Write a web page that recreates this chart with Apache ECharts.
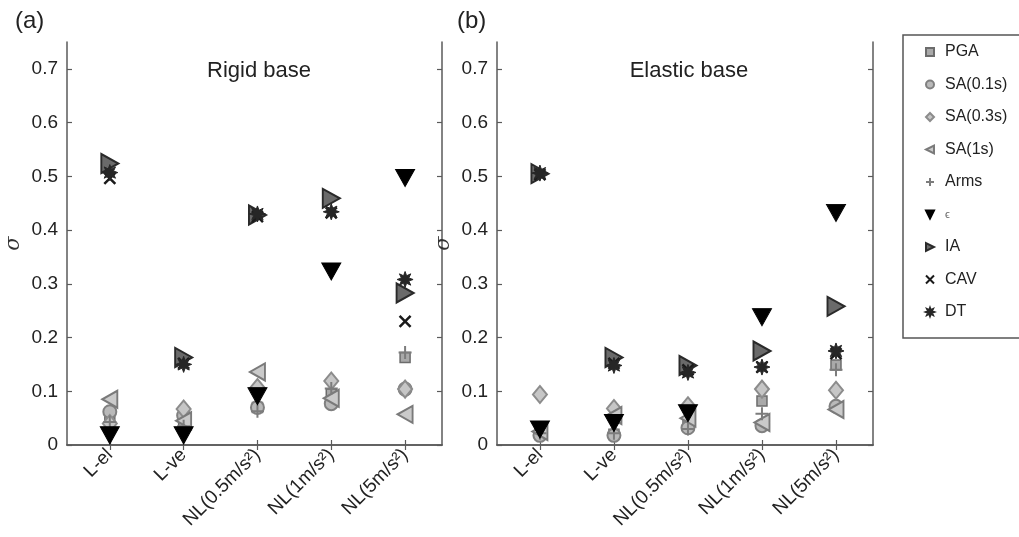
<!DOCTYPE html>
<html><head><meta charset="utf-8">
<script src="https://cdn.jsdelivr.net/npm/echarts@6/dist/echarts.min.js"></script>
<style>html,body{margin:0;padding:0;background:#fff}#c{width:1019px;height:537px}</style>
</head><body><div id="c"></div>
<script>
const categories = ['L-el', 'L-ve', 'NL(0.5m/s²)', 'NL(1m/s²)', 'NL(5m/s²)'];
const yTicks = [0, 0.1, 0.2, 0.3, 0.4, 0.5, 0.6, 0.7];
const seriesNames = ['PGA', 'SA(0.1s)', 'SA(0.3s)', 'SA(1s)', 'Arms', 'ϵ', 'IA', 'CAV', 'DT'];

// Panel (a) Rigid base
const rigidPGA  = [0.045, 0.040, 0.070, 0.095, 0.163];
const rigidSA01 = [0.062, 0.055, 0.070, 0.077, 0.104];
const rigidSA03 = [0.040, 0.067, 0.107, 0.119, 0.104];
const rigidSA1  = [0.085, 0.045, 0.136, 0.087, 0.057];
const rigidArms = [0.043, 0.035, 0.063, 0.105, 0.172];
const rigidEps  = [0.018, 0.018, 0.091, 0.323, 0.497];
const rigidIA   = [0.524, 0.163, 0.428, 0.459, 0.283];
const rigidCAV  = [0.496, 0.152, 0.425, 0.432, 0.230];
const rigidDT   = [0.507, 0.150, 0.430, 0.434, 0.308];

// Panel (b) Elastic base
const elasPGA  = [0.020, 0.020, 0.040, 0.082, 0.149];
const elasSA01 = [0.018, 0.018, 0.032, 0.036, 0.072];
const elasSA03 = [0.094, 0.068, 0.073, 0.104, 0.102];
const elasSA1  = [0.025, 0.055, 0.050, 0.042, 0.066];
const elasArms = [0.022, 0.022, 0.030, 0.058, 0.140];
const elasEps  = [0.029, 0.041, 0.059, 0.238, 0.432];
const elasIA   = [0.505, 0.163, 0.148, 0.175, 0.258];
const elasCAV  = [0.503, 0.152, 0.140, 0.145, 0.170];
const elasDT   = [0.506, 0.148, 0.135, 0.145, 0.175];

const rigid = [rigidPGA, rigidSA01, rigidSA03, rigidSA1, rigidArms, rigidEps, rigidIA, rigidCAV, rigidDT];
const elastic = [elasPGA, elasSA01, elasSA03, elasSA1, elasArms, elasEps, elasIA, elasCAV, elasDT];

// star path for DT
let star = 'path://';
for (let k = 0; k < 16; k++) {
  const a = Math.PI * k / 8 - Math.PI / 2;
  const r = k % 2 === 0 ? 1 : 0.5;
  star += (k === 0 ? 'M' : 'L') + (r * Math.cos(a)).toFixed(3) + ',' + (r * Math.sin(a)).toFixed(3);
}
star += 'Z';

const styles = [
  {symbol: 'rect', size: 10, color: '#a9a9a9', border: '#6c6c6c', bw: 1.5},
  {symbol: 'circle', size: 13, color: '#b9b9b9', border: '#808080', bw: 2},
  {symbol: 'diamond', size: [14, 17], color: '#c6c6c6', border: '#8c8c8c', bw: 2},
  {symbol: 'path://M1,-1L1,1L-1,0Z', size: [15, 17], color: '#cacaca', border: '#7a7a7a', bw: 2},
  {symbol: 'path://M-1,0L1,0M0,-1L0,1', size: 13, color: 'rgba(0,0,0,0)', border: '#7c7c7c', bw: 2},
  {symbol: 'path://M-1,-1L1,-1L0,1Z', size: [19, 17], color: '#000', border: '#000', bw: 1},
  {symbol: 'path://M-1,-1L-1,1L1,0Z', size: [17, 19], color: '#6a6a6a', border: '#2a2a2a', bw: 2},
  {symbol: 'path://M-1,-1L1,1M-1,1L1,-1', size: 11, color: 'rgba(0,0,0,0)', border: '#1a1a1a', bw: 2.5},
  {symbol: star, size: 16, color: '#262626', border: '#262626', bw: 1}
];

const FONT = 'Liberation Sans, Arial, sans-serif';
const series = [];
[rigid, elastic].forEach((panel, p) => {
  panel.forEach((vals, i) => {
    const st = styles[i];
    series.push({
      type: 'scatter', name: seriesNames[i],
      xAxisIndex: p * 2, yAxisIndex: p * 2,
      symbol: st.symbol, symbolSize: st.size,
      itemStyle: {color: st.color, borderColor: st.border, borderWidth: st.bw, opacity: 1},
      emphasis: {disabled: true},
      data: vals.map((v, j) => [j + 1, v]),
      z: 2 + i
    });
  });
});

const axisLine = {show: true, lineStyle: {color: '#5a5a5a', width: 1.5}};
const grids = [
  {left: 67, top: 42, width: 375, height: 403},
  {left: 497, top: 42, width: 376, height: 403}
];
const xAxes = [], yAxes = [];
grids.forEach((g, p) => {
  xAxes.push({
    type: 'value', gridIndex: p, min: 0.42, max: 5.5, position: 'bottom',
    axisLine, splitLine: {show: false},
    axisTick: {show: true, inside: true, length: 5, customValues: [1, 2, 3, 4, 5], lineStyle: {color: '#5a5a5a', width: 1.2}},
    axisLabel: {customValues: [1, 2, 3, 4, 5], rotate: 45, margin: 7, fontSize: 19, fontFamily: FONT, color: '#222',
      formatter: v => categories[Math.round(v) - 1]}
  });
  xAxes.push({
    type: 'value', gridIndex: p, min: 0.42, max: 5.5, position: 'top',
    axisLine, splitLine: {show: false},
    axisTick: {show: true, inside: true, length: 5, customValues: [1, 2, 3, 4, 5], lineStyle: {color: '#5a5a5a', width: 1.2}},
    axisLabel: {show: false}
  });
  yAxes.push({
    type: 'value', gridIndex: p, min: 0, max: 0.75, position: 'left',
    axisLine, splitLine: {show: false},
    name: 'σ', nameLocation: 'middle', nameRotate: 90, nameGap: 43,
    nameTextStyle: {fontSize: 21, fontStyle: 'italic', fontFamily: 'DejaVu Serif, serif', color: '#333'},
    axisTick: {show: true, inside: true, length: 5, customValues: yTicks, lineStyle: {color: '#5a5a5a', width: 1.2}},
    axisLabel: {customValues: yTicks, fontSize: 19, fontFamily: FONT, color: '#222', margin: 9,
      formatter: v => v === 0 ? '0' : v.toFixed(1)}
  });
  yAxes.push({
    type: 'value', gridIndex: p, min: 0, max: 0.75, position: 'right',
    axisLine, splitLine: {show: false},
    axisTick: {show: true, inside: true, length: 5, customValues: yTicks, lineStyle: {color: '#5a5a5a', width: 1.2}},
    axisLabel: {show: false}
  });
});

const chart = echarts.init(document.getElementById('c'), null, {renderer: 'canvas'});
chart.setOption({
  animation: false,
  backgroundColor: '#fff',
  title: [
    {text: '(a)', left: 10, top: 4, textStyle: {fontSize: 24, fontWeight: 'normal', fontFamily: FONT, color: '#222'}},
    {text: '(b)', left: 452, top: 4, textStyle: {fontSize: 24, fontWeight: 'normal', fontFamily: FONT, color: '#222'}},
    {text: 'Rigid base', left: 254, top: 55, textAlign: 'center', textStyle: {fontSize: 22, fontWeight: 'normal', fontFamily: FONT, color: '#222'}},
    {text: 'Elastic base', left: 684, top: 55, textAlign: 'center', textStyle: {fontSize: 22, fontWeight: 'normal', fontFamily: FONT, color: '#222'}}
  ],
  legend: {
    orient: 'vertical', left: 903, top: 35,
    data: seriesNames,
    itemWidth: 8, itemHeight: 8, itemGap: 14.5,
    padding: [8, 80, 17, 22],
    borderColor: '#555', borderWidth: 1.5,
    selectedMode: false,
    formatter: n => n === 'ϵ' ? '{e|ϵ}' : n,
    textStyle: {fontSize: 16, fontFamily: FONT, color: '#222', lineHeight: 18, padding: [0, 0, 0, 6],
      rich: {e: {fontSize: 11, color: '#666', fontFamily: FONT}}}
  },
  grid: grids,
  xAxis: xAxes,
  yAxis: yAxes,
  series
});
</script></body></html>
